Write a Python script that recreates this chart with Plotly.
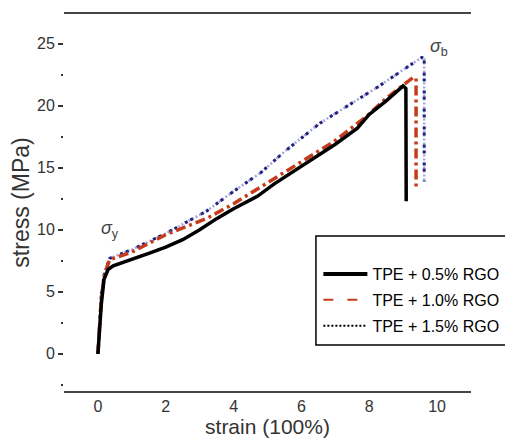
import plotly.graph_objects as go

# strain (100%) and stress (MPa)
strain_05 = [0, 0.05, 0.1, 0.18, 0.3, 0.45, 1.0, 1.5, 2.0, 2.5, 3.0, 3.5, 4.0, 4.7, 5.2, 6.2, 7.0, 7.65, 8.0, 8.5, 9.0, 9.08, 9.09]
stress_05 = [0, 2.0, 4.0, 6.0, 6.8, 7.1, 7.6, 8.1, 8.6, 9.2, 10.0, 10.9, 11.7, 12.7, 13.7, 15.5, 16.9, 18.2, 19.3, 20.4, 21.6, 21.4, 12.3]

strain_10 = [0, 0.05, 0.1, 0.2, 0.35, 1.0, 2.0, 3.2, 4.0, 5.3, 6.0, 6.95, 7.9, 8.5, 9.3, 9.38, 9.38]
stress_10 = [0, 2.0, 4.5, 6.5, 7.6, 8.2, 9.6, 10.9, 12.1, 14.3, 15.5, 17.1, 19.1, 20.6, 22.3, 22.2, 13.2]

strain_15 = [0, 0.05, 0.1, 0.2, 0.35, 1.0, 2.0, 3.2, 4.0, 4.8, 5.5, 6.55, 7.5, 8.3, 9.0, 9.55, 9.62, 9.62]
stress_15 = [0, 2.0, 4.8, 6.6, 7.7, 8.4, 9.7, 11.5, 13.1, 14.6, 16.3, 18.6, 20.2, 21.6, 22.9, 23.9, 23.8, 13.9]

series_names = ["TPE + 0.5% RGO", "TPE + 1.0% RGO", "TPE + 1.5% RGO"]

y_ticks = [0, 5, 10, 15, 20, 25]
x_ticks = [0, 2, 4, 6, 8, 10]

fig = go.Figure()
# 1.5%: light lavender hatch under navy square dots
fig.add_trace(go.Scatter(x=strain_15, y=stress_15, mode="lines", showlegend=False,
                         line=dict(color="#a6a6dc", width=2.5, dash="2px,2px")))
fig.add_trace(go.Scatter(x=strain_15, y=stress_15, mode="lines", showlegend=False,
                         line=dict(color="#22227e", width=3, dash="3px,3px,3px,9px")))
fig.add_trace(go.Scatter(x=strain_10, y=stress_10, mode="lines", showlegend=False,
                         line=dict(color="#c43c1c", width=3.5, dash="10px,4px,3px,4px")))
fig.add_trace(go.Scatter(x=strain_05, y=stress_05, mode="lines", showlegend=False,
                         line=dict(color="black", width=3.5)))
# legend entries
fig.add_trace(go.Scatter(x=[None], y=[None], mode="lines", name=series_names[0],
                         legendgroup="a", line=dict(color="black", width=4)))
fig.add_trace(go.Scatter(x=[None], y=[None], mode="lines", name=series_names[1],
                         legendgroup="b", line=dict(color="#c43c1c", width=2, dash="10px,14px")))
fig.add_trace(go.Scatter(x=[None], y=[None], mode="lines", name=series_names[2],
                         legendgroup="c", line=dict(color="black", width=2, dash="2px,2px")))

fig.add_annotation(x=0.35, y=8.95, text="<i>σ</i><sub>y</sub>", showarrow=False,
                   font=dict(size=18, color="#444"), xanchor="center", yanchor="bottom")
fig.add_annotation(x=10.05, y=23.65, text="<i>σ</i><sub>b</sub>", showarrow=False,
                   font=dict(size=18, color="#444"), xanchor="center", yanchor="bottom")

# legend frame (extends past the right edge like the reference)
fig.add_shape(type="rect", xref="paper", yref="paper",
              x0=0.619, x1=1.14, y0=0.122, y1=0.411,
              line=dict(color="black", width=1.5), fillcolor="white", layer="below")

# the page body adds an 8px offset, so the figure is sized to 505x433
fig.update_layout(
    width=505, height=433,
    margin=dict(l=56, r=42, t=6, b=50, autoexpand=False),
    plot_bgcolor="white", paper_bgcolor="white",
    font=dict(family="Liberation Sans, Arial", color="#333"),
    legend=dict(x=0.625, y=0.355, xanchor="left", yanchor="top",
                borderwidth=0, bgcolor="rgba(0,0,0,0)",
                font=dict(size=16, color="black"), itemwidth=44,
                tracegroupgap=2),
    xaxis=dict(range=[-1, 11], tickvals=x_ticks, showline=True, mirror=True,
               linecolor="#444", linewidth=2, showgrid=False, zeroline=False,
               automargin=False,
               ticks="", tickfont=dict(size=16, color="#333"),
               title=dict(text="strain (100%)", font=dict(size=21, color="#333"), standoff=4)),
    yaxis=dict(range=[-3.0, 27.4], tickvals=y_ticks, showline=False, showgrid=False,
               zeroline=False, ticks="outside", ticklen=5, tickwidth=1.5, tickcolor="#333",
               automargin=False,
               minor=dict(ticks="outside", ticklen=2, tickwidth=1.5, tickcolor="#333",
                          tickvals=[-2.5, 2.5, 7.5, 12.5, 17.5, 22.5]),
               tickfont=dict(size=16, color="#333"),
               title=dict(text="stress (MPa)", font=dict(size=23, color="#333"), standoff=4)),
)

fig.write_html("out.html")
